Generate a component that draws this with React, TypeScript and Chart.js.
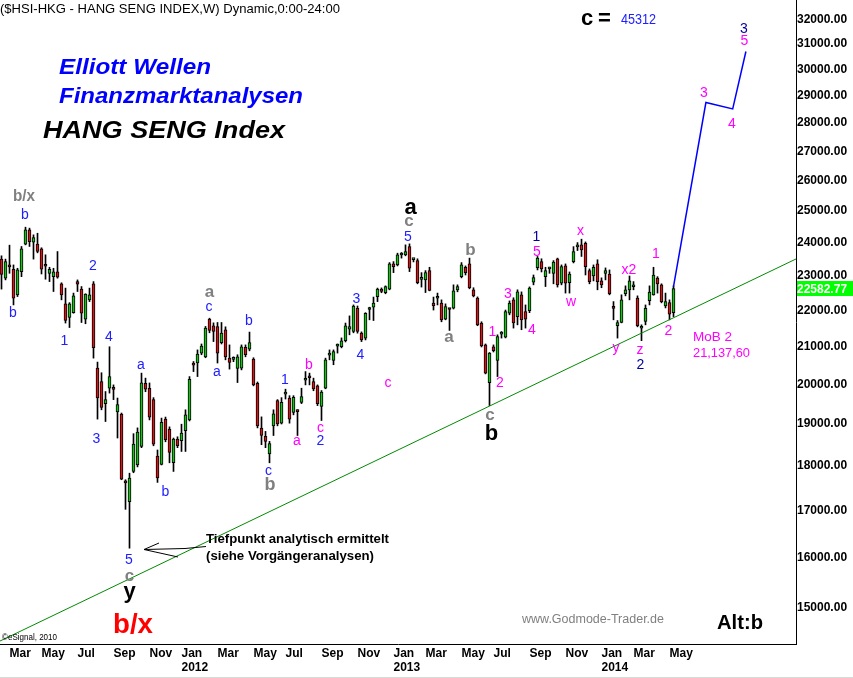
import React, { useEffect, useRef } from "react";
import { Chart, registerables } from "chart.js";
Chart.register(...registerables);

// ---- data (weekly candles, HANG SENG INDEX) ----
const opens = [23455,22885,23240,23150,22400,23080,23910,24360,23970,23910,23770,23260,23030,22930,23070,22720,22140,21755,21890,22785,22565,21710,22255,22720,20380,20030,19470,19860,19850,19260,19210,17600,17160,17840,17990,18425,19985,19860,19570,18195,18005,19085,18840,18040,18600,18560,18800,19065,20470,20515,20780,20675,21710,21525,21505,21060,21415,20645,20610,20370,20380,20935,20885,20620,19985,18865,18665,18245,18920,19545,18985,19710,19610,19250,19280,19500,20065,20140,20030,19920,19400,19860,20725,20585,20965,20950,21115,21430,21365,22015,21320,21185,21980,22045,22350,22565,22465,22565,23310,23280,23580,23585,23835,23440,23410,22850,22835,23110,22160,22300,22160,21710,21990,22015,22545,22930,23210,23310,22545,22305,21600,21000,20005,20950,20585,21295,21210,21875,22255,21780,22400,21920,21945,22770,23200,23380,22930,23160,23030,23465,22740,23250,22755,23380,23830,23890,23940,23110,22950,23310,22805,23030,23010,22020,21525,21615,22430,22545,22635,22305,21455,21645,22235,22400,22885,22690,22080,22175,21890];
const highs = [23555,23455,23880,23280,23180,23840,24440,24410,24200,24250,23800,23585,23210,23180,23685,22750,22595,22175,22450,22835,22640,22430,22595,22785,20540,20260,19775,20950,19945,19610,19235,17650,17800,18730,18870,20250,20120,19995,19620,18340,19110,19135,18895,18625,18655,18960,19315,20160,20555,20865,21025,21505,21735,21605,21615,21615,21495,21000,20680,20735,21000,21000,21350,20655,20020,19140,18785,18545,19315,19570,19620,19835,19670,19670,19315,19860,20290,20250,20120,19945,19800,20645,20865,20865,21025,21190,21600,21800,22110,22080,21355,21890,22045,22335,22595,22600,22660,23350,23380,23635,23655,23890,23920,23455,23465,23050,23110,23210,22335,22450,22255,22140,22015,22690,22690,23350,23250,23485,22605,22340,21635,21025,20795,21000,21275,21365,21965,22225,22315,22545,22485,22110,22630,22980,23535,23465,23210,23210,23410,23485,23280,23310,23070,23835,23960,24065,23980,23160,23280,23435,22895,23190,23130,22205,21670,22400,22660,22950,22785,22370,21550,22110,22660,23210,22930,22720,22450,22255,22660];
const lows = [22565,22835,23030,22110,22350,22930,23890,23840,23455,23645,23010,22855,22785,22495,22885,22255,21600,21475,21875,22495,21615,21580,22205,20645,19085,19315,19025,19735,19570,18625,17650,16990,16160,17810,17945,18395,19770,19065,18440,17590,17990,18535,18040,17840,18395,18305,18305,19040,20290,20160,20735,20655,21330,21090,20515,21025,20600,20355,20550,20005,20335,20680,20840,19920,18870,18465,18395,18040,18685,18920,18965,19585,18985,19190,18685,19470,19945,19945,19795,19420,19050,19845,20600,20470,20780,20920,21080,21275,21330,21320,21090,21135,21690,21670,22205,22460,22430,22545,23050,23250,23485,23555,23080,23370,22720,22625,22465,22515,21965,22110,21635,21690,21395,21995,22487,22895,22980,22575,22340,21525,20945,20230,19420,20810,20160,21185,21190,21830,21460,21550,21415,21460,21890,22690,23130,23070,22640,23030,22720,22625,22690,22450,22450,23340,23715,23535,22980,22720,22805,22545,22605,22835,22400,21690,21185,21605,22370,22255,22545,21495,21115,21550,22110,22390,22450,22170,22025,21690,21780];
const closes = [23000,23380,23220,22300,23130,23770,24360,23990,24115,23685,23150,23240,23150,23070,22915,22400,21670,22140,22370,22710,21875,22420,22400,20925,19610,19375,19570,20160,19830,19445,17665,17580,17690,18480,18770,20000,19835,19135,18480,17690,19005,18585,18280,18600,18440,18745,19190,20090,20460,20750,20970,21460,21395,21365,20780,21320,20675,20530,20625,20680,20950,20735,21060,19945,18920,18685,18545,18490,19215,18965,19500,19725,19085,19625,19270,19650,20080,20130,19845,19470,19760,20600,20740,20820,20975,21110,21525,21505,22080,21365,21135,21875,21990,22160,22565,22495,22640,23310,23230,23585,23590,23685,23180,23445,22755,22860,23050,22525,22090,22310,21690,22060,21980,22515,22640,23280,23050,22610,22370,21550,20970,20250,20780,20845,21225,21310,21920,22160,21600,22485,21690,21710,22595,22900,23485,23160,23110,23175,23365,22690,23230,22740,23010,23685,23845,23735,23230,22785,23210,22785,22690,23110,22430,22010,21615,22255,22545,22805,22645,21525,21465,22015,22480,22980,22720,22205,22205,21850,22582.77];

const monthTickIdx = [2, 10, 19, 28, 37, 45, 54, 63, 71, 80, 89, 98, 106, 115, 123, 132, 141, 150, 158, 167];
const monthTickLabels: (string | string[])[] = ["Mar", "May", "Jul", "Sep", "Nov", ["Jan", "2012"], "Mar", "May", "Jul", "Sep", "Nov", ["Jan", "2013"], "Mar", "May", "Jul", "Sep", "Nov", ["Jan", "2014"], "Mar", "May"];
const priceTicks = [15000, 16000, 17000, 18000, 19000, 20000, 21000, 22000, 23000, 24000, 25000, 26000, 27000, 28000, 29000, 30000, 31000, 32000];

const trendX = [-0.375, 198.625];
const trendY = [14338, 23459];
const projX = [168, 176.1, 182.8, 186.1];
const projY = [22640, 28700, 28465, 30650];
const lastPrice = 22582.77;

// ---- styling / layout ----
const F = "'Liberation Sans', Arial, sans-serif";
const UP = "#18c018";
const DOWN = "#d01818";
const BLUE = "#2020ff";
const NAVY = "#0000a0";
const MAG = "#ff00ff";
const GRAY = "#808080";

type Txt = [string, number, number, string, string, CanvasTextAlign, number?];
const overlayTexts: Txt[] = [
  ["($HSI-HKG - HANG SENG INDEX,W) Dynamic,0:00-24:00", 0, 13, "#000", `13px ${F}`, "left", 340],
  ["Elliott Wellen", 59, 74, "#0000ff", `italic bold 22px ${F}`, "left", 152],
  ["Finanzmarktanalysen", 59, 103, "#0000ff", `italic bold 22px ${F}`, "left", 244],
  ["HANG SENG Index", 43, 138, "#000", `italic bold 23px ${F}`, "left", 242],
  ["c", 581, 25, "#000", `bold 22px ${F}`, "left"],
  ["=", 598, 25, "#000", `bold 22px ${F}`, "left"],
  ["45312", 621, 23.5, BLUE, `14px ${F}`, "left", 35],
  // blue wave labels
  ["b", 25, 218.5, BLUE, `14px ${F}`, "center"],
  ["2", 93, 269.5, BLUE, `14px ${F}`, "center"],
  ["b", 13, 317, BLUE, `14px ${F}`, "center"],
  ["1", 64.5, 345, BLUE, `14px ${F}`, "center"],
  ["4", 109, 340.5, BLUE, `14px ${F}`, "center"],
  ["3", 96.5, 442.5, BLUE, `14px ${F}`, "center"],
  ["a", 141, 369, BLUE, `14px ${F}`, "center"],
  ["b", 165.5, 496, BLUE, `14px ${F}`, "center"],
  ["5", 129, 564, BLUE, `14px ${F}`, "center"],
  ["c", 209, 310.5, BLUE, `14px ${F}`, "center"],
  ["b", 249, 325, BLUE, `14px ${F}`, "center"],
  ["a", 217, 376, BLUE, `14px ${F}`, "center"],
  ["1", 285, 384, BLUE, `14px ${F}`, "center"],
  ["2", 320.5, 445, BLUE, `14px ${F}`, "center"],
  ["3", 356.5, 302.5, BLUE, `14px ${F}`, "center"],
  ["4", 360.5, 358.5, BLUE, `14px ${F}`, "center"],
  ["c", 268.5, 475, BLUE, `14px ${F}`, "center"],
  ["5", 408, 240.5, BLUE, `14px ${F}`, "center"],
  ["1", 536.5, 240.5, NAVY, `14px ${F}`, "center"],
  ["3", 744, 32.5, NAVY, `14px ${F}`, "center"],
  ["2", 640.5, 369, NAVY, `14px ${F}`, "center"],
  // magenta wave labels
  ["b", 309, 368.5, MAG, `14px ${F}`, "center"],
  ["a", 297, 445, MAG, `14px ${F}`, "center"],
  ["c", 320.5, 431.5, MAG, `14px ${F}`, "center"],
  ["c", 388, 386.5, MAG, `14px ${F}`, "center"],
  ["1", 492.5, 336, MAG, `14px ${F}`, "center"],
  ["2", 500, 386.5, MAG, `14px ${F}`, "center"],
  ["3", 508, 297.5, MAG, `14px ${F}`, "center"],
  ["4", 532, 334, MAG, `14px ${F}`, "center"],
  ["5", 537, 256, MAG, `14px ${F}`, "center"],
  ["w", 571, 306, MAG, `14px ${F}`, "center"],
  ["x", 580.5, 235, MAG, `14px ${F}`, "center"],
  ["x2", 629, 273.5, MAG, `14px ${F}`, "center"],
  ["1", 656, 258, MAG, `14px ${F}`, "center"],
  ["y", 616, 352, MAG, `14px ${F}`, "center"],
  ["z", 640, 354, MAG, `14px ${F}`, "center"],
  ["2", 668.5, 335, MAG, `14px ${F}`, "center"],
  ["3", 704, 96.5, MAG, `14px ${F}`, "center"],
  ["4", 732, 128, MAG, `14px ${F}`, "center"],
  ["5", 744.5, 45, MAG, `14px ${F}`, "center"],
  ["MoB 2", 693, 341, MAG, `13px ${F}`, "left", 39],
  ["21,137,60", 693, 357, MAG, `13px ${F}`, "left", 57],
  // gray labels
  ["b/x", 13, 200.5, GRAY, `bold 16px ${F}`, "left", 22],
  ["a", 209.5, 296.5, GRAY, `bold 17px ${F}`, "center"],
  ["b", 270, 490, GRAY, `bold 18px ${F}`, "center"],
  ["c", 409, 226, GRAY, `bold 17px ${F}`, "center"],
  ["b", 470.5, 255, GRAY, `bold 17px ${F}`, "center"],
  ["a", 449, 341.5, GRAY, `bold 17px ${F}`, "center"],
  ["c", 490, 420, GRAY, `bold 17px ${F}`, "center"],
  ["c", 129.5, 580.5, GRAY, `bold 17px ${F}`, "center"],
  // black labels
  ["a", 410.5, 213.5, "#000", `bold 22px ${F}`, "center"],
  ["b", 491.5, 439.5, "#000", `bold 22px ${F}`, "center"],
  ["y", 129.5, 597.5, "#000", `bold 22px ${F}`, "center"],
  ["b/x", 113, 633, "#ff0000", `bold 28px ${F}`, "left", 40],
  // notes
  ["Tiefpunkt analytisch ermittelt", 206, 543, "#000", `bold 13px ${F}`, "left", 183],
  ["(siehe Vorgängeranalysen)", 206, 559.5, "#000", `bold 13px ${F}`, "left", 168],
  ["www.Godmode-Trader.de", 522, 622.5, GRAY, `12.5px ${F}`, "left", 142],
  ["Alt:b", 717, 628.5, "#000", `bold 20px ${F}`, "left", 46],
  ["\u00A9eSignal, 2010", 2, 639.5, "#000", `8.5px ${F}`, "left", 55],
];

function drawText(ctx: CanvasRenderingContext2D, t: Txt) {
  const [text, x, y, color, font, align, width] = t;
  ctx.save();
  ctx.font = font;
  ctx.fillStyle = color;
  ctx.textBaseline = "alphabetic";
  if (width) {
    const w = ctx.measureText(text).width;
    ctx.translate(x, y);
    ctx.scale(width / w, 1);
    ctx.textAlign = "left";
    ctx.fillText(text, 0, 0);
  } else {
    ctx.textAlign = align;
    ctx.fillText(text, x, y);
  }
  ctx.restore();
}

const overlayPlugin = {
  id: "overlay",
  afterDraw(chart: any) {
    const ctx: CanvasRenderingContext2D = chart.ctx;
    overlayTexts.forEach((t) => drawText(ctx, t));
    // arrow
    ctx.save();
    ctx.strokeStyle = "#000";
    ctx.lineWidth = 1;
    ctx.beginPath();
    ctx.moveTo(144, 549.5);
    ctx.lineTo(185, 548.5);
    ctx.lineTo(206, 546.5);
    ctx.moveTo(144, 549.5);
    ctx.lineTo(159, 543);
    ctx.moveTo(144, 549.5);
    ctx.lineTo(178, 557);
    ctx.stroke();
    ctx.restore();
    // last price box
    const y = chart.scales.y.getPixelForValue(lastPrice);
    ctx.save();
    ctx.fillStyle = "#00ff00";
    ctx.fillRect(797, Math.round(y - 7.5), 56, 15);
    ctx.fillStyle = "#fff";
    ctx.font = `bold 12px ${F}`;
    ctx.textBaseline = "middle";
    ctx.textAlign = "left";
    ctx.fillText(lastPrice.toFixed(2), 797, y + 1);
    // bottom thin line
    ctx.fillStyle = "#d4dcd4";
    ctx.fillRect(0, 677, 853, 1);
    ctx.restore();
  },
};

export default function App() {
  const ref = useRef<HTMLCanvasElement | null>(null);
  useEffect(() => {
    document.body.style.margin = "0";
    const canvas = ref.current;
    if (!canvas) return;
    Chart.defaults.font.family = F;
    const wicks = lows.map((l, i) => ({ x: i, y: [l, highs[i]] }));
    const bodies = opens.map((o, i) => ({ x: i, y: [Math.min(o, closes[i]), Math.max(o, closes[i])] }));
    const bodyColors = opens.map((o, i) => (closes[i] >= o ? UP : DOWN));
    const chart = new Chart(canvas, {
      type: "bar",
      data: {
        datasets: [
          {
            type: "line",
            data: trendX.map((x, i) => ({ x, y: trendY[i] })),
            borderColor: "#008a00",
            borderWidth: 1,
            pointRadius: 0,
            order: -2,
          } as any,
          {
            type: "line",
            data: projX.map((x, i) => ({ x, y: projY[i] })),
            borderColor: "#0000ff",
            borderWidth: 1.5,
            pointRadius: 0,
            order: -1,
          } as any,
          {
            type: "bar",
            data: bodies as any,
            backgroundColor: bodyColors,
            borderColor: "#000",
            borderWidth: 1,
            borderSkipped: false,
            barThickness: 3,
            minBarLength: 2,
            grouped: false,
            order: 0,
          } as any,
          {
            type: "bar",
            data: wicks as any,
            backgroundColor: "#000",
            borderWidth: 0,
            barThickness: 1,
            grouped: false,
            order: 1,
          } as any,
        ],
      },
      options: {
        responsive: false,
        devicePixelRatio: 1,
        animation: false,
        events: [],
        layout: { padding: 0, autoPadding: false },
        plugins: { legend: { display: false }, tooltip: { enabled: false } },
        scales: {
          x: {
            type: "linear",
            position: "bottom",
            bounds: "data",
            min: -0.375,
            max: 198.625,
            offset: false,
            grid: { display: false, drawTicks: false },
            border: { display: true, color: "#000", width: 1 },
            afterBuildTicks: (s: any) => {
              s.ticks = monthTickIdx.map((v) => ({ value: v }));
            },
            afterFit: (s: any) => {
              s.height = 34;
              s.paddingLeft = 0;
              s.paddingRight = 0;
              s.paddingTop = 0;
              s.paddingBottom = 0;
            },
            ticks: {
              autoSkip: false,
              maxRotation: 0,
              minRotation: 0,
              align: "start",
              padding: 2.5,
              color: "#000",
              font: { size: 12, weight: "bold", family: F, lineHeight: 1.2 },
              callback: (_v: any, i: number) => monthTickLabels[i],
            },
          },
          y: {
            type: "logarithmic",
            position: "right",
            bounds: "data",
            min: 14283,
            max: 32753,
            grid: { display: false, drawTicks: false },
            border: { display: true, color: "#000", width: 1 },
            afterBuildTicks: (s: any) => {
              s.ticks = priceTicks.map((v) => ({ value: v }));
            },
            afterFit: (s: any) => {
              s.width = 57;
              s.paddingLeft = 0;
              s.paddingRight = 0;
              s.paddingTop = 0;
              s.paddingBottom = 0;
            },
            ticks: {
              autoSkip: false,
              padding: 1,
              labelOffset: 1.5,
              color: "#000",
              font: { size: 12, weight: "bold", family: F },
              callback: (v: any) => Number(v).toFixed(2),
            },
          },
        },
      } as any,
      plugins: [overlayPlugin],
    });
    return () => chart.destroy();
  }, []);
  return (
    <div style={{ position: "fixed", left: 0, top: 0, width: 853, height: 678, background: "#fff" }}>
      <canvas ref={ref} width={853} height={678} style={{ display: "block", width: 853, height: 678 }} />
    </div>
  );
}
